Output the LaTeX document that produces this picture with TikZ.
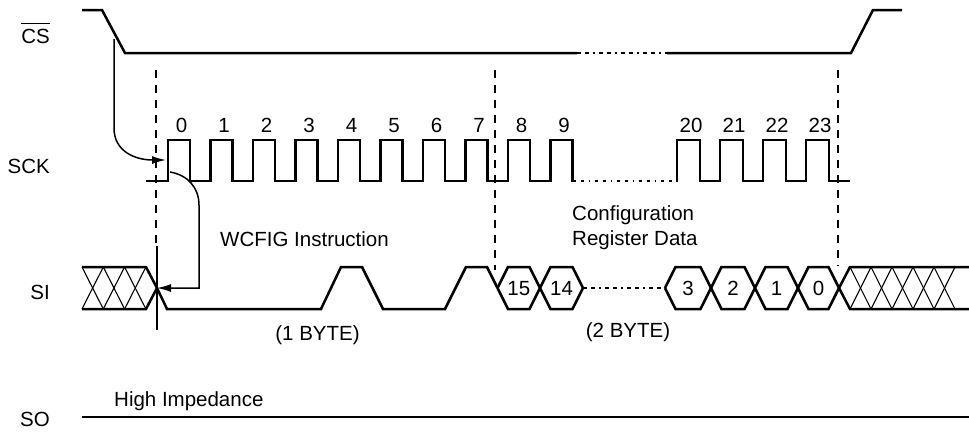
\documentclass[tikz,border=0pt]{standalone}
\usepackage{fontspec}
\setmainfont{Liberation Sans}
\usetikzlibrary{arrows.meta, calc, positioning}
\newcommand{\sigFont}{\fontsize{20.5}{25}\selectfont}
\newcommand{\barName}[1]{{\setbox0\hbox{#1}\rlap{\rule[19.2pt]{\wd0}{1.7pt}}\box0}}
\tikzset{
    sigLine/.style={line width=2.5pt},
    clkLine/.style={line width=2.5pt, line cap=rect},
    sigGap/.style={line width=2.5pt, dash pattern=on 3.5pt off 4.5pt on 3.5pt off 4.5pt on 1.5pt off 4.5pt},
    sigHatch/.style={line width=1.1pt},
    sigMark/.style={line width=2.2pt, dash pattern=on 8pt off 7pt},
    sigTick/.style={line width=1.7pt},
    sigArrow/.style={->, >={Latex[length=14pt, width=8pt]}, line width=1.5pt},
    sigText/.style={font=\sigFont, inner sep=0pt},
}
\newcommand{\drawPulse}[4]{
    % low lead-in, rising edge, falling edge
    \draw[clkLine] (#1,181) -- (#2,181) -- (#2,140) -- (#3,140) -- (#3,181);
    \node[sigText, anchor=base] (clk#4) at ({(#2+#3)/2+2.5},132) {#4};
}
\newcommand{\drawHex}[3]{
    % upper and lower edge of one data bit
    \draw[sigLine] (#1,288) -- ({#1+10.5},267) -- ({#2-10.5},267) -- (#2,288);
    \draw[sigLine] (#1,288) -- ({#1+10.5},309) -- ({#2-10.5},309) -- (#2,288);
    \node[sigText, anchor=base] (bit#3) at ({(#1+#2)/2},295) {#3};
}
\newcommand{\drawHatch}[3]{
    % don't care: #3 crossings of width #2
    \foreach \k in {1,...,#3}{
        \draw[sigHatch] ({#1+(\k-1)*#2},267) -- ++(#2,42);
        \draw[sigHatch] ({#1+(\k-1)*#2},309) -- ++(#2,-42);
    }
}
\begin{document}
\begin{tikzpicture}[x=1pt, y=-1pt]
    \useasboundingbox (0,0) rectangle (969,432);

    \node[sigText, anchor=base east] (csName) at (50,43.5) {\barName{CS}};
    \node[sigText, anchor=base east] (sckName) at (50,173) {SCK};
    \node[sigText, anchor=base east] (siName) at (50,299) {SI};
    \node[sigText, anchor=base east] (soName) at (50,426.5) {SO};

    \draw[sigLine] (82,10) -- (102,10) -- (125,53) -- (577,53);
    \draw[sigGap] (577,53) -- (667,53);
    \draw[sigLine] (667,53) -- (851,53) -- (873,10) -- (902,10);

    \drawPulse{147}{168}{190}{0}
    \drawPulse{190}{210.5}{232.5}{1}
    \drawPulse{232.5}{253}{275}{2}
    \drawPulse{275}{295.5}{317.5}{3}
    \drawPulse{317.5}{338}{360}{4}
    \drawPulse{360}{380.5}{402.5}{5}
    \drawPulse{402.5}{423}{445}{6}
    \drawPulse{445}{465.5}{487.5}{7}
    \drawPulse{487.5}{508}{530}{8}
    \drawPulse{530}{550.5}{572.5}{9}
    \draw[sigGap] (572.5,181) -- (677,181);
    \drawPulse{677}{677}{700}{20}
    \drawPulse{700}{720}{743}{21}
    \drawPulse{743}{763}{786}{22}
    \drawPulse{786}{806}{829}{23}
    \draw[clkLine] (829,181) -- (849,181);

    \drawHatch{82}{21.3}{3}
    \draw[sigLine] (82,267) -- (146,267) -- (157,288) -- (167,309) -- (321,309) -- (341,267) -- (362,267) -- (383,309) -- (445,309) -- (466,267) -- (487,267) -- (497.5,288);
    \draw[sigLine] (82,309) -- (146,309) -- (157,288);
    \drawHex{497.5}{540}{15}
    \drawHex{540}{583}{14}
    \draw[sigGap] (583,288) -- (665,288);
    \drawHex{665}{711}{3}
    \drawHex{711}{755}{2}
    \drawHex{755}{798}{1}
    \drawHex{798}{839}{0}
    \draw[sigLine] (839,288) -- (850,267) -- (969,267);
    \draw[sigLine] (839,288) -- (850,309) -- (969,309);
    \drawHatch{850}{21}{5}

    \draw[sigLine] (82,417) -- (969,417);

    \draw[sigMark] (156,70) -- (156,243);
    \draw[sigMark] (495,70) -- (495,270);
    \draw[sigMark] (838,70) -- (838,266);
    \draw[sigTick] (157,246) -- (157,330);

    \coordinate (csDrop) at (114,39);
    \coordinate (sckRise) at (166,160);
    \coordinate (sckHit) at (170,172);
    \coordinate (siEdge) at (157,288);
    \draw[sigArrow] (csDrop) -- (114,128) .. controls (114,152) and (136,160) .. (sckRise);
    \draw[sigArrow] (sckHit) .. controls (188,175) and (199,188) .. (199,205) |- (siEdge);

    \node[sigText, anchor=base] (instrText) at (304.5,246.5) {WCFIG Instruction};
    \node[sigText, anchor=base west] (cfgText) at (572,220) {Configuration};
    \node[sigText, anchor=base west] (regText) at (572,245) {Register Data};
    \node[sigText, anchor=base] (oneByte) at (317.5,340) {(1 BYTE)};
    \node[sigText, anchor=base] (twoByte) at (628,337) {(2 BYTE)};
    \node[sigText, anchor=base west] (hiZText) at (114,406) {High Impedance};
\end{tikzpicture}
\end{document}
